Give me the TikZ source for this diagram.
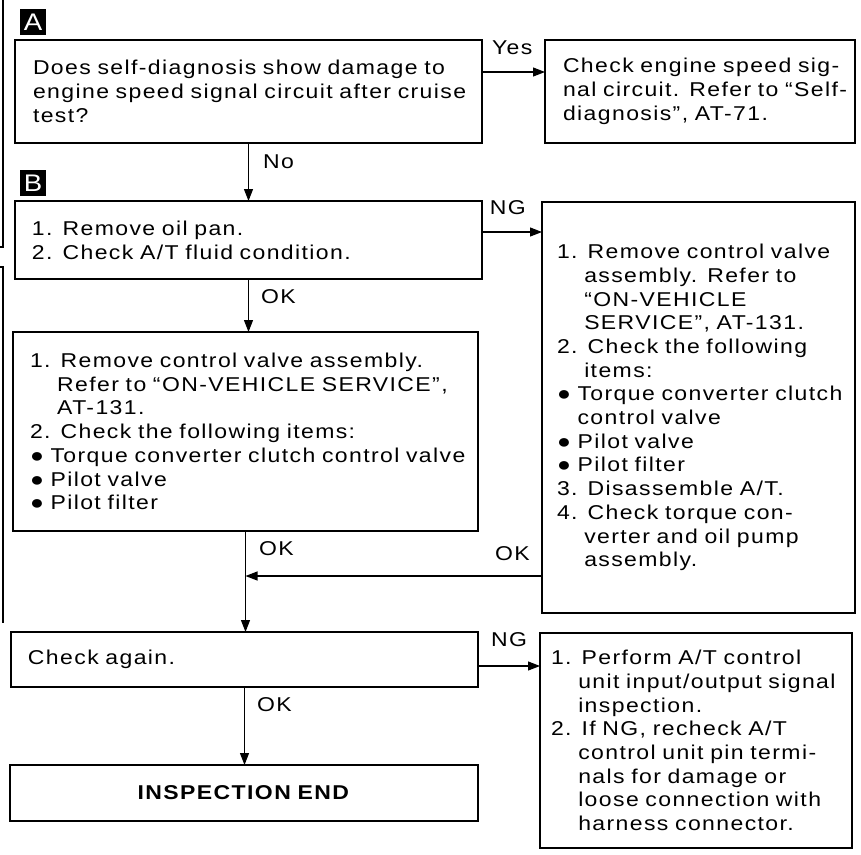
\documentclass[tikz,border=0pt]{standalone}
\usepackage{fontspec}
\setmainfont{Liberation Sans}[FakeStretch=1.15, LetterSpace=7]
\usetikzlibrary{arrows.meta}

% Indents for continued lines
\newcommand{\ind}{\phantom{1.\ }}
\newcommand{\bind}{\phantom{●\ }}

\begin{document}
\begin{tikzpicture}[x=1pt,y=-1pt,
    frame/.style={draw, line width=1.5pt, outer sep=0pt, anchor=north west,
        inner xsep=4pt, inner ysep=0pt, font=\fontsize{20}{23.7}\selectfont},
    box/.style={frame, align=left, margin=13pt},
    margin/.style={execute at begin node={\leftskip=#1}},
    arr/.style={line width=1.1pt, -{Triangle[length=12pt,width=9pt]}},
    lbl/.style={inner sep=0pt, font=\fontsize{20}{23}\selectfont},
    tag/.style={fill=black, text=white, minimum size=26pt, inner sep=0pt,
        anchor=north west, font=\fontsize{24}{24}\selectfont}]

    % Fix the page size
    \useasboundingbox (0,0) rectangle (861,854);

    % Marks on the left edge
    \draw[line width=1.2pt] (3,0) -- (3,247) -- (0,247);
    \draw[line width=1.2pt] (0,267) -- (3,267) -- (3,623);

    % Step tags
    \node[tag] (tagA) at (20,9) {A};
    \node[tag] (tagB) at (20,170) {B};

    % Boxes
    \node[box, margin=14pt, minimum width=467pt, minimum height=103pt, text width=459pt] (quest) at (15,40)
        {Does self-diagnosis show damage to\\engine speed signal circuit after cruise\\test?};
    \node[box, margin=14pt, minimum width=310pt, minimum height=103pt, text width=302pt] (speed) at (545,40)
        {Check engine speed sig-\\nal circuit. Refer to ``Self-\\diagnosis'', AT-71.};
    \node[box, minimum width=467pt, minimum height=78pt, text width=459pt] (oilpan) at (15,201)
        {1. Remove oil pan.\\2. Check A/T fluid condition.};
    \node[box, margin=11pt, minimum width=313pt, minimum height=411pt, text width=305pt] (valveng) at (542,202)
        {1. Remove control valve\\\ind assembly. Refer to\\\ind ``ON-VEHICLE\\\ind SERVICE'', AT-131.\\
         2. Check the following\\\ind items:\\● Torque converter clutch\\\bind control valve\\
         ● Pilot valve\\● Pilot filter\\3. Disassemble A/T.\\4. Check torque con-\\
         \ind verter and oil pump\\\ind assembly.};
    \node[box, minimum width=465pt, minimum height=199pt, text width=457pt] (valve) at (13,332)
        {1. Remove control valve assembly.\\\ind Refer to ``ON-VEHICLE SERVICE'',\\\ind AT-131.\\
         2. Check the following items:\\● Torque converter clutch control valve\\
         ● Pilot valve\\● Pilot filter};
    \node[box, minimum width=467pt, minimum height=55pt, text width=459pt] (again) at (11,632)
        {Check again.};
    \node[box, margin=7pt, minimum width=312pt, minimum height=215pt, text width=304pt] (unit) at (540,633)
        {1. Perform A/T control\\\ind unit input/output signal\\\ind inspection.\\
         2. If NG, recheck A/T\\\ind control unit pin termi-\\\ind nals for damage or\\
         \ind loose connection with\\\ind harness connector.};
    \node[frame, align=center, minimum width=468pt, minimum height=56pt, text width=460pt] (done) at (10,765)
        {\textbf{INSPECTION END}};

    % Heights of the side arrows
    \path (quest.north east) ++(0,32) coordinate (yesy);
    \path (oilpan.north east) ++(0,31) coordinate (ngy);
    \path (again.north east) ++(0,34) coordinate (ngb);
    \path (valve.south) ++(0,45) coordinate (okjoin);

    % Connectors
    \draw[arr] (yesy) -- (yesy -| speed.west) node[lbl, pos=0.48, above=17pt] {Yes};
    \draw[arr] (quest.south) -- (quest.south |- oilpan.north) node[lbl, pos=0.33, right=14pt] {No};
    \draw[arr] (ngy) -- (ngy -| valveng.west) node[lbl, pos=0.43, above=17pt] {NG};
    \draw[arr] (oilpan.south) -- (oilpan.south |- valve.north) node[lbl, pos=0.34, right=12pt] {OK};
    \draw[arr] (valve.south) -- (valve.south |- again.north) node[lbl, pos=0.17, right=13pt] {OK};
    \draw[arr] (okjoin -| valveng.west) -- (okjoin) node[lbl, pos=0.10, above=15pt] {OK};
    \draw[arr] (ngb) -- (ngb -| unit.west) node[lbl, pos=0.5, above=19pt] {NG};
    \draw[arr] (again.south) -- (again.south |- done.north) node[lbl, pos=0.23, right=12pt] {OK};

\end{tikzpicture}
\end{document}
